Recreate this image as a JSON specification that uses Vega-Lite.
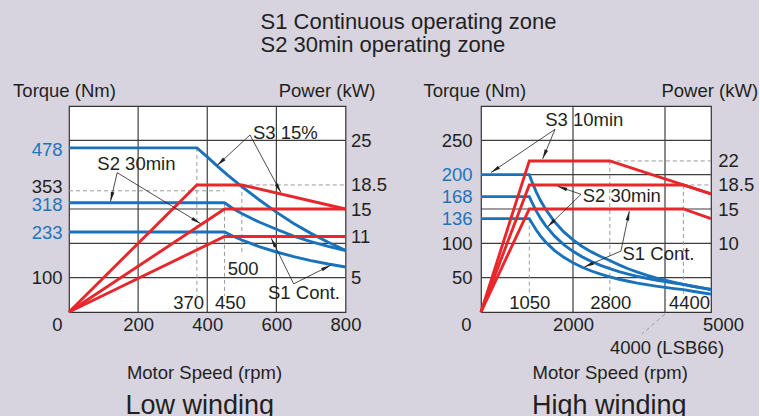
{
  "$schema": "https://vega.github.io/schema/vega-lite/v6.json",
  "background": "#d7d4e0",
  "padding": {"left": 12, "top": 10, "right": 0, "bottom": 0},
  "title": {
    "text": ["S1 Continuous operating zone", "S2 30min operating zone"],
    "anchor": "start", "align": "left", "frame": "group", "dx": 191.5,
    "fontSize": 22, "lineHeight": 23.5, "offset": 23, "fontWeight": "normal", "color": "#231f20"
  },
  "datasets": {
    "lowCurves": [
      {"s":"S3","k":"T","n":0,"v":478},{"s":"S3","k":"T","n":370,"v":478},{"s":"S3","k":"T","n":400,"v":452},{"s":"S3","k":"T","n":430,"v":424},{"s":"S3","k":"T","n":460,"v":398},{"s":"S3","k":"T","n":500,"v":365},{"s":"S3","k":"T","n":550,"v":327},{"s":"S3","k":"T","n":600,"v":291},{"s":"S3","k":"T","n":650,"v":258},{"s":"S3","k":"T","n":700,"v":229},{"s":"S3","k":"T","n":750,"v":203},{"s":"S3","k":"T","n":800,"v":180},
      {"s":"S2","k":"T","n":0,"v":318},{"s":"S2","k":"T","n":450,"v":318},{"s":"S2","k":"T","n":475,"v":301},{"s":"S2","k":"T","n":500,"v":287},{"s":"S2","k":"T","n":550,"v":262},{"s":"S2","k":"T","n":600,"v":241},{"s":"S2","k":"T","n":650,"v":221},{"s":"S2","k":"T","n":700,"v":205},{"s":"S2","k":"T","n":750,"v":191},{"s":"S2","k":"T","n":800,"v":179},
      {"s":"S1","k":"T","n":0,"v":233},{"s":"S1","k":"T","n":450,"v":233},{"s":"S1","k":"T","n":475,"v":220.7},{"s":"S1","k":"T","n":500,"v":209.7},{"s":"S1","k":"T","n":550,"v":190.6},{"s":"S1","k":"T","n":600,"v":174.8},{"s":"S1","k":"T","n":650,"v":161.3},{"s":"S1","k":"T","n":700,"v":149.8},{"s":"S1","k":"T","n":750,"v":139.8},{"s":"S1","k":"T","n":800,"v":131.1},
      {"s":"S3","k":"P","n":0,"v":0},{"s":"S3","k":"P","n":370,"v":18.5},{"s":"S3","k":"P","n":500,"v":18.5},{"s":"S3","k":"P","n":800,"v":15},
      {"s":"S2","k":"P","n":0,"v":0},{"s":"S2","k":"P","n":450,"v":15},{"s":"S2","k":"P","n":800,"v":15},
      {"s":"S1","k":"P","n":0,"v":0},{"s":"S1","k":"P","n":450,"v":11},{"s":"S1","k":"P","n":800,"v":11}
    ],
    "highCurves": [
      {"s":"S3","k":"T","n":0,"v":200},{"s":"S3","k":"T","n":1050,"v":200},{"s":"S3","k":"T","n":1100,"v":191},{"s":"S3","k":"T","n":1200,"v":175},{"s":"S3","k":"T","n":1300,"v":161.5},{"s":"S3","k":"T","n":1400,"v":150},{"s":"S3","k":"T","n":1600,"v":131.3},{"s":"S3","k":"T","n":1800,"v":116.7},{"s":"S3","k":"T","n":2000,"v":105},{"s":"S3","k":"T","n":2200,"v":95.5},{"s":"S3","k":"T","n":2400,"v":87.5},{"s":"S3","k":"T","n":2600,"v":80.8},{"s":"S3","k":"T","n":2800,"v":75},{"s":"S3","k":"T","n":3000,"v":68.6},{"s":"S3","k":"T","n":3200,"v":63},{"s":"S3","k":"T","n":3400,"v":58.1},{"s":"S3","k":"T","n":3600,"v":53.7},{"s":"S3","k":"T","n":3800,"v":49.8},{"s":"S3","k":"T","n":4000,"v":46.3},{"s":"S3","k":"T","n":4200,"v":43.1},{"s":"S3","k":"T","n":4400,"v":40.2},{"s":"S3","k":"T","n":4600,"v":37.5},{"s":"S3","k":"T","n":4800,"v":35.1},{"s":"S3","k":"T","n":5000,"v":32.8},
      {"s":"S2","k":"T","n":0,"v":168},{"s":"S2","k":"T","n":1050,"v":168},{"s":"S2","k":"T","n":1100,"v":160.6},{"s":"S2","k":"T","n":1200,"v":147.2},{"s":"S2","k":"T","n":1300,"v":135.9},{"s":"S2","k":"T","n":1400,"v":126.2},{"s":"S2","k":"T","n":1600,"v":110.4},{"s":"S2","k":"T","n":1800,"v":98.1},{"s":"S2","k":"T","n":2000,"v":88.3},{"s":"S2","k":"T","n":2200,"v":80.3},{"s":"S2","k":"T","n":2400,"v":73.6},{"s":"S2","k":"T","n":2600,"v":67.9},{"s":"S2","k":"T","n":2800,"v":63.1},{"s":"S2","k":"T","n":3000,"v":58.9},{"s":"S2","k":"T","n":3200,"v":55.2},{"s":"S2","k":"T","n":3400,"v":52},{"s":"S2","k":"T","n":3600,"v":49.1},{"s":"S2","k":"T","n":3800,"v":46.5},{"s":"S2","k":"T","n":4000,"v":44.2},{"s":"S2","k":"T","n":4200,"v":42.1},{"s":"S2","k":"T","n":4400,"v":40.2},{"s":"S2","k":"T","n":4600,"v":37.5},{"s":"S2","k":"T","n":4800,"v":35.1},{"s":"S2","k":"T","n":5000,"v":32.8},
      {"s":"S1","k":"T","n":0,"v":136},{"s":"S1","k":"T","n":1050,"v":136},{"s":"S1","k":"T","n":1100,"v":130.2},{"s":"S1","k":"T","n":1200,"v":119.4},{"s":"S1","k":"T","n":1300,"v":110.2},{"s":"S1","k":"T","n":1400,"v":102.3},{"s":"S1","k":"T","n":1600,"v":89.5},{"s":"S1","k":"T","n":1800,"v":79.6},{"s":"S1","k":"T","n":2000,"v":71.6},{"s":"S1","k":"T","n":2200,"v":65.1},{"s":"S1","k":"T","n":2400,"v":59.7},{"s":"S1","k":"T","n":2600,"v":55.1},{"s":"S1","k":"T","n":2800,"v":51.2},{"s":"S1","k":"T","n":3000,"v":47.7},{"s":"S1","k":"T","n":3200,"v":44.8},{"s":"S1","k":"T","n":3400,"v":42.1},{"s":"S1","k":"T","n":3600,"v":39.8},{"s":"S1","k":"T","n":3800,"v":37.7},{"s":"S1","k":"T","n":4000,"v":35.8},{"s":"S1","k":"T","n":4200,"v":34.1},{"s":"S1","k":"T","n":4400,"v":32.6},{"s":"S1","k":"T","n":4600,"v":30.2},{"s":"S1","k":"T","n":4800,"v":28},{"s":"S1","k":"T","n":5000,"v":26},
      {"s":"S3","k":"P","n":0,"v":0},{"s":"S3","k":"P","n":1050,"v":22},{"s":"S3","k":"P","n":2800,"v":22},{"s":"S3","k":"P","n":5000,"v":17.2},
      {"s":"S2","k":"P","n":0,"v":0},{"s":"S2","k":"P","n":1050,"v":18.5},{"s":"S2","k":"P","n":4400,"v":18.5},{"s":"S2","k":"P","n":5000,"v":17.2},
      {"s":"S1","k":"P","n":0,"v":0},{"s":"S1","k":"P","n":1050,"v":15},{"s":"S1","k":"P","n":4400,"v":15},{"s":"S1","k":"P","n":5000,"v":13.6}
    ],
    "lowGridH": [{"t":100},{"t":200},{"t":300},{"t":500}],
    "lowGridV": [{"n":200},{"n":400},{"n":600}],
    "highGridH": [{"t":50},{"t":100},{"t":150},{"t":200},{"t":250}],
    "highGridV": [{"n":2000},{"n":4000}],
    "lowRefs": [
      {"n":370,"t":478,"n2":370,"t2":47},
      {"n":450,"t":318,"n2":450,"t2":47},
      {"n":500,"t":370,"n2":500,"t2":165},
      {"n":0,"t":353,"n2":450,"t2":353},
      {"n":500,"t":370,"n2":800,"t2":370}
    ],
    "highRefs": [
      {"n":1050,"t":136,"n2":1050,"t2":24},
      {"n":2800,"t":220,"n2":2800,"t2":24},
      {"n":4400,"t":185,"n2":4400,"t2":24},
      {"n":2800,"t":220,"n2":5000,"t2":220},
      {"n":4400,"t":185,"n2":5000,"t2":185},
      {"n":4000,"t":-3,"n2":3500,"t2":-32}
    ],
    "lowNotes": [
      {"label":"S3 15%","n":626,"t":522},
      {"label":"S2 30min","n":195,"t":431},
      {"label":"S1 Cont.","n":680,"t":55},
      {"label":"370","n":346,"t":27},
      {"label":"450","n":467,"t":27},
      {"label":"500","n":504,"t":124}
    ],
    "highNotes": [
      {"label":"S3 10min","n":2246,"t":279},
      {"label":"S2 30min","n":3061,"t":169},
      {"label":"S1 Cont.","n":3859,"t":85},
      {"label":"1050","n":1061,"t":13.5},
      {"label":"2800","n":2820,"t":13.5},
      {"label":"4400","n":4533,"t":13.5},
      {"label":"4000 (LSB66)","n":4043,"t":-52}
    ],
    "lowArrows": [
      {"n":523.7,"t":515.6,"n2":428.8,"t2":427},
      {"n":523.7,"t":515.6,"n2":613,"t2":348},
      {"n":139.5,"t":405.8,"n2":120,"t2":322},
      {"n":139.5,"t":405.8,"n2":380,"t2":258},
      {"n":650,"t":82,"n2":585,"t2":215},
      {"n":650,"t":82,"n2":756.7,"t2":136}
    ],
    "highArrows": [
      {"n":1609,"t":266,"n2":217,"t2":203},
      {"n":1609,"t":266,"n2":1341,"t2":223},
      {"n":2174,"t":171.4,"n2":1667,"t2":183},
      {"n":2174,"t":171.4,"n2":1449,"t2":124},
      {"n":3043,"t":88.8,"n2":3225,"t2":147},
      {"n":3043,"t":88.8,"n2":2246,"t2":65.5}
    ]
  },
  "spacing": 135,
  "bounds": "flush",
  "hconcat": [
    {
      "width": 276.5,
      "height": 206,
      "title": {"text": "Low winding", "orient": "bottom", "anchor": "middle", "frame": "group", "dx": -7.5, "fontSize": 27, "offset": 11, "fontWeight": "normal", "color": "#231f20"},
      "layer": [
        {
          "layer": [
            {
              "data": {"name": "lowGridH"},
              "mark": {"type": "rule", "color": "#3d3d3d", "strokeWidth": 1.2},
              "encoding": {"y": {"field": "t", "type": "quantitative", "scale": {"domain": [0, 600], "nice": false}}}
            },
            {
              "data": {"name": "lowGridV"},
              "mark": {"type": "rule", "color": "#3d3d3d", "strokeWidth": 1.2},
              "encoding": {"x": {"field": "n", "type": "quantitative", "scale": {"domain": [0, 800], "nice": false},
                "axis": {"values": [0, 200, 400, 600, 800], "format": "d", "title": "Motor Speed (rpm)", "titleX": 135, "titleY": 60, "titleBaseline": "middle", "titleAlign": "center", "labelPadding": 3, "labelFlush": false, "labelOverlap": false,
                  "labelOffset": {"condition": {"test": "datum.value == 0", "value": -12}, "value": 0}}}}
            },
            {
              "data": {"name": "lowRefs"},
              "mark": {"type": "rule", "color": "#9a9a9a", "strokeDash": [4, 3], "strokeWidth": 1},
              "encoding": {
                "x": {"field": "n", "type": "quantitative", "scale": {"domain": [0, 800], "nice": false}},
                "y": {"field": "t", "type": "quantitative", "scale": {"domain": [0, 600], "nice": false}},
                "x2": {"field": "n2"}, "y2": {"field": "t2"}
              }
            },
            {
              "data": {"name": "lowCurves"},
              "transform": [{"filter": "datum.k == 'T'"}],
              "mark": {"type": "line", "color": "#1a72bb", "strokeWidth": 2.9},
              "encoding": {
                "x": {"field": "n", "type": "quantitative", "scale": {"domain": [0, 800], "nice": false}},
                "y": {"field": "v", "type": "quantitative", "scale": {"domain": [0, 600], "nice": false},
                  "axis": {"values": [100, 233, 318, 353, 478], "format": "d", "orient": "left", "title": "Torque (Nm)", "titleAngle": 0, "titleAlign": "center", "titleBaseline": "middle", "titleX": -5, "titleY": -16, "labelPadding": 7, "labelFlush": false, "labelOverlap": false,
                    "labelOffset": {"condition": [{"test": "datum.value == 353", "value": -4}, {"test": "datum.value == 318", "value": 1.5}, {"test": "datum.value == 478", "value": 1.5}], "value": 0},
                    "labelColor": {"condition": {"test": "datum.value == 233 || datum.value == 318 || datum.value == 478", "value": "#1c75bc"}, "value": "#231f20"}}},
                "detail": {"field": "s"}
              }
            }
          ]
        },
        {
          "data": {"name": "lowCurves"},
          "transform": [{"filter": "datum.k == 'P'"}],
          "mark": {"type": "line", "color": "#e8262b", "strokeWidth": 2.9},
          "encoding": {
            "x": {"field": "n", "type": "quantitative", "scale": {"domain": [0, 800], "nice": false}},
            "y": {"field": "v", "type": "quantitative", "scale": {"domain": [0, 30], "nice": false},
              "axis": {"values": [5, 11, 15, 18.5, 25], "format": ".1~f", "orient": "right", "title": "Power (kW)", "titleAngle": 0, "titleAlign": "center", "titleBaseline": "middle", "titleX": -19, "titleY": -16, "labelPadding": 5, "labelFlush": false, "labelOverlap": false}},
            "detail": {"field": "s"}
          }
        },
        {
          "layer": [
            {
              "data": {"name": "lowArrows"},
              "mark": {"type": "rule", "color": "#231f20", "strokeWidth": 0.8},
              "encoding": {
                "x": {"field": "n", "type": "quantitative", "scale": {"domain": [0, 800], "nice": false}},
                "y": {"field": "t", "type": "quantitative", "scale": {"domain": [0, 600], "nice": false}, "axis": null},
                "x2": {"field": "n2"}, "y2": {"field": "t2"}
              }
            },
            {
              "data": {"name": "lowArrows"},
              "transform": [{"calculate": "atan2((datum.n2 - datum.n) * 0.3456, (datum.t2 - datum.t) * 0.3433) * 180 / PI", "as": "ang"}],
              "mark": {"type": "point", "shape": "M0,0L-0.45,2.4L0.45,2.4Z", "filled": true, "color": "#231f20", "size": 64, "opacity": 1},
              "encoding": {
                "x": {"field": "n2", "type": "quantitative", "scale": {"domain": [0, 800], "nice": false}},
                "y": {"field": "t2", "type": "quantitative", "scale": {"domain": [0, 600], "nice": false}, "axis": null},
                "angle": {"field": "ang", "type": "quantitative", "scale": null}
              }
            },
            {
              "data": {"name": "lowNotes"},
              "mark": {"type": "text", "fontSize": 18.5, "color": "#231f20"},
              "encoding": {
                "x": {"field": "n", "type": "quantitative", "scale": {"domain": [0, 800], "nice": false}},
                "y": {"field": "t", "type": "quantitative", "scale": {"domain": [0, 600], "nice": false}, "axis": null},
                "text": {"field": "label"}
              }
            }
          ]
        }
      ],
      "resolve": {"scale": {"y": "independent"}}
    },
    {
      "width": 230,
      "height": 206,
      "title": {"text": "High winding", "orient": "bottom", "anchor": "middle", "frame": "group", "dx": 13.3, "fontSize": 27, "offset": 11, "fontWeight": "normal", "color": "#231f20"},
      "layer": [
        {
          "layer": [
            {
              "data": {"name": "highGridH"},
              "mark": {"type": "rule", "color": "#3d3d3d", "strokeWidth": 1.2},
              "encoding": {"y": {"field": "t", "type": "quantitative", "scale": {"domain": [0, 300], "nice": false}}}
            },
            {
              "data": {"name": "highGridV"},
              "mark": {"type": "rule", "color": "#3d3d3d", "strokeWidth": 1.2},
              "encoding": {"x": {"field": "n", "type": "quantitative", "scale": {"domain": [0, 5000], "nice": false},
                "axis": {"values": [0, 2000, 5000], "format": "d", "title": "Motor Speed (rpm)", "titleX": 128.7, "titleY": 60, "titleBaseline": "middle", "titleAlign": "center", "labelPadding": 3, "labelFlush": false, "labelOverlap": false,
                  "labelOffset": {"condition": [{"test": "datum.value == 0", "value": -15}, {"test": "datum.value == 5000", "value": 12}], "value": 0}}}}
            },
            {
              "data": {"name": "highRefs"},
              "mark": {"type": "rule", "color": "#9a9a9a", "strokeDash": [4, 3], "strokeWidth": 1},
              "encoding": {
                "x": {"field": "n", "type": "quantitative", "scale": {"domain": [0, 5000], "nice": false}},
                "y": {"field": "t", "type": "quantitative", "scale": {"domain": [0, 300], "nice": false}},
                "x2": {"field": "n2"}, "y2": {"field": "t2"}
              }
            },
            {
              "data": {"name": "highCurves"},
              "transform": [{"filter": "datum.k == 'T'"}],
              "mark": {"type": "line", "color": "#1a72bb", "strokeWidth": 2.9},
              "encoding": {
                "x": {"field": "n", "type": "quantitative", "scale": {"domain": [0, 5000], "nice": false}},
                "y": {"field": "v", "type": "quantitative", "scale": {"domain": [0, 300], "nice": false},
                  "axis": {"values": [50, 100, 136, 168, 200, 250], "format": "d", "orient": "left", "title": "Torque (Nm)", "titleAngle": 0, "titleAlign": "center", "titleBaseline": "middle", "titleX": -6.7, "titleY": -16, "labelPadding": 9, "labelFlush": false, "labelOverlap": false,
                    "labelColor": {"condition": {"test": "datum.value == 136 || datum.value == 168 || datum.value == 200", "value": "#1c75bc"}, "value": "#231f20"}}},
                "detail": {"field": "s"}
              }
            }
          ]
        },
        {
          "data": {"name": "highCurves"},
          "transform": [{"filter": "datum.k == 'P'"}],
          "mark": {"type": "line", "color": "#e8262b", "strokeWidth": 2.9},
          "encoding": {
            "x": {"field": "n", "type": "quantitative", "scale": {"domain": [0, 5000], "nice": false}},
            "y": {"field": "v", "type": "quantitative", "scale": {"domain": [0, 30], "nice": false},
              "axis": {"values": [10, 15, 18.5, 22], "format": ".1~f", "orient": "right", "title": "Power (kW)", "titleAngle": 0, "titleAlign": "center", "titleBaseline": "middle", "titleX": -1.7, "titleY": -16, "labelPadding": 6.7, "labelFlush": false, "labelOverlap": false}},
            "detail": {"field": "s"}
          }
        },
        {
          "layer": [
            {
              "data": {"name": "highArrows"},
              "mark": {"type": "rule", "color": "#231f20", "strokeWidth": 0.8},
              "encoding": {
                "x": {"field": "n", "type": "quantitative", "scale": {"domain": [0, 5000], "nice": false}},
                "y": {"field": "t", "type": "quantitative", "scale": {"domain": [0, 300], "nice": false}, "axis": null},
                "x2": {"field": "n2"}, "y2": {"field": "t2"}
              }
            },
            {
              "data": {"name": "highArrows"},
              "transform": [{"calculate": "atan2((datum.n2 - datum.n) * 0.046, (datum.t2 - datum.t) * 0.6867) * 180 / PI", "as": "ang"}],
              "mark": {"type": "point", "shape": "M0,0L-0.45,2.4L0.45,2.4Z", "filled": true, "color": "#231f20", "size": 64, "opacity": 1},
              "encoding": {
                "x": {"field": "n2", "type": "quantitative", "scale": {"domain": [0, 5000], "nice": false}},
                "y": {"field": "t2", "type": "quantitative", "scale": {"domain": [0, 300], "nice": false}, "axis": null},
                "angle": {"field": "ang", "type": "quantitative", "scale": null}
              }
            },
            {
              "data": {"name": "highNotes"},
              "mark": {"type": "text", "fontSize": 18.5, "color": "#231f20"},
              "encoding": {
                "x": {"field": "n", "type": "quantitative", "scale": {"domain": [0, 5000], "nice": false}},
                "y": {"field": "t", "type": "quantitative", "scale": {"domain": [0, 300], "nice": false}, "axis": null},
                "text": {"field": "label"}
              }
            }
          ]
        }
      ],
      "resolve": {"scale": {"y": "independent"}}
    }
  ],
  "config": {
    "font": "Liberation Sans",
    "view": {"stroke": "#333333", "strokeWidth": 1.2, "fill": "#ffffff"},
    "axis": {"ticks": false, "domain": false, "grid": false, "labelFontSize": 18.5, "titleFontSize": 18.5, "titleFontWeight": "normal", "labelColor": "#231f20", "titleColor": "#231f20", "labelFont": "Liberation Sans", "titleFont": "Liberation Sans"},
    "title": {"font": "Liberation Sans"},
    "text": {"font": "Liberation Sans"}
  }
}
